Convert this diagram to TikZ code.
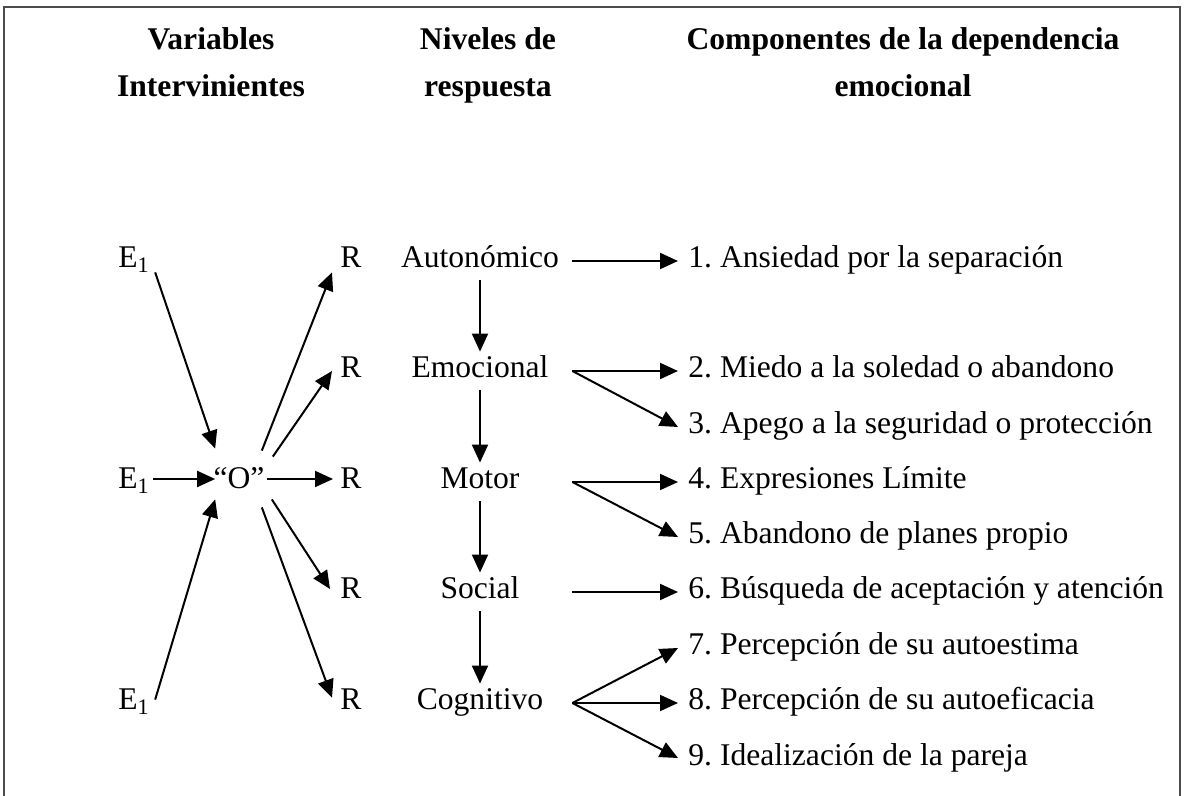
\documentclass[tikz,border=0pt]{standalone}
\usepackage{fontspec}
\setmainfont{Liberation Serif}
\usetikzlibrary{arrows.meta}
\frenchspacing

\begin{document}
\begin{tikzpicture}[
    x=0.5pt, y=-0.5pt,
    every node/.style={font=\fontsize{15.8}{23.5}\selectfont},
    head/.style={align=center, font=\fontsize{15.8}{23.5}\selectfont\bfseries},
    var/.style={anchor=base west, inner sep=0pt, text height=11pt, text depth=4pt},
    nivel/.style={anchor=base, minimum width=92pt, inner xsep=0pt, inner ysep=2pt, text height=11pt, text depth=4pt},
    comp/.style={anchor=base west, inner xsep=5pt, inner ysep=0pt, text height=11pt, text depth=4pt},
    frame/.style={draw=black!70, line width=1pt},
    arrow/.style={-{Triangle[length=9pt,width=8pt]}, line width=1pt}
]
\useasboundingbox (0,0) rectangle (1190,796);

% Frame (open at the bottom)
\draw[frame] (4,796) -- (4,7) -- (1180,7) -- (1180,796);

% Column headings
\node[head] (hvar) at (211,62) {Variables\\Intervinientes};
\node[head] (hniv) at (488,65) {Niveles de\\respuesta};
\node[head] (hcomp) at (903,62) {Componentes de la dependencia\\emocional};

% Intervening variables: stimuli, organism, responses
\node[var] (e1a) at (118,268) {E\textsubscript{1}};
\node[var] (e1b) at (118,489) {E\textsubscript{1}};
\node[var] (e1c) at (118,710) {E\textsubscript{1}};
\node[var, anchor=base] (o) at (239,489) {“O”};
\node[var] (r1) at (340,268) {R};
\node[var] (r2) at (340,378) {R};
\node[var] (r3) at (340,489) {R};
\node[var] (r4) at (340,599) {R};
\node[var] (r5) at (340,710) {R};

% Response levels
\node[nivel] (lv1) at (480,268) {Autonómico};
\node[nivel] (lv2) at (480,378) {Emocional};
\node[nivel] (lv3) at (480,489) {Motor};
\node[nivel] (lv4) at (480,599) {Social};
\node[nivel] (lv5) at (480,710) {Cognitivo};

% Components of emotional dependence
\node[comp] (c1) at (678,268) {1. Ansiedad por la separación};
\node[comp] (c2) at (678,378) {2. Miedo a la soledad o abandono};
\node[comp] (c3) at (678,434) {3. Apego a la seguridad o protección};
\node[comp] (c4) at (678,489) {4. Expresiones Límite};
\node[comp] (c5) at (678,544) {5. Abandono de planes propio};
\node[comp] (c6) at (678,599) {6. Búsqueda de aceptación y atención};
\node[comp] (c7) at (678,655) {7. Percepción de su autoestima};
\node[comp] (c8) at (678,710) {8. Percepción de su autoeficacia};
\node[comp] (c9) at (678,765) {9. Idealización de la pareja};

% Stimuli to organism
\draw[arrow] ([xshift=2.5pt,yshift=2pt]e1a.south east) -- ([xshift=1pt,yshift=9pt]o.north west);
\draw[arrow] ([xshift=1.5pt,yshift=1.5pt]e1b.east) -- ([xshift=1pt,yshift=1.5pt]o.west);
\draw[arrow] ([xshift=2.5pt,yshift=-6pt]e1c.north east) -- ([xshift=1pt,yshift=-1pt]o.south west);

% Organism to responses
\draw[arrow] ([xshift=-1.5pt,yshift=8pt]o.north east) -- ([xshift=-4pt,yshift=2pt]r1.south west);
\draw[arrow] ([xshift=4pt,yshift=5pt]o.north east) -- ([xshift=-4pt]r2.west);
\draw[arrow] ([xshift=1pt,yshift=1.5pt]o.east) -- ([xshift=-3.5pt,yshift=1.5pt]r3.west);
\draw[arrow] ([xshift=3.5pt,yshift=-1pt]o.south east) -- ([xshift=-5pt,yshift=1.5pt]r4.west);
\draw[arrow] ([xshift=-1.5pt,yshift=-5pt]o.south east) -- ([xshift=-4pt,yshift=-5pt]r5.north west);

% Levels chain
\draw[arrow] (lv1) -- (lv2);
\draw[arrow] (lv2) -- (lv3);
\draw[arrow] (lv3) -- (lv4);
\draw[arrow] (lv4) -- (lv5);

% Levels to components
\draw[arrow] (lv1.east) -- (c1.west);
\draw[arrow] (lv2.east) -- (c2.west);
\draw[arrow] (lv2.east) -- (c3.west);
\draw[arrow] (lv3.east) -- (c4.west);
\draw[arrow] (lv3.east) -- (c5.west);
\draw[arrow] (lv4.east) -- (c6.west);
\draw[arrow] (lv5.east) -- (c7.west);
\draw[arrow] (lv5.east) -- (c8.west);
\draw[arrow] (lv5.east) -- (c9.west);

\end{tikzpicture}
\end{document}
